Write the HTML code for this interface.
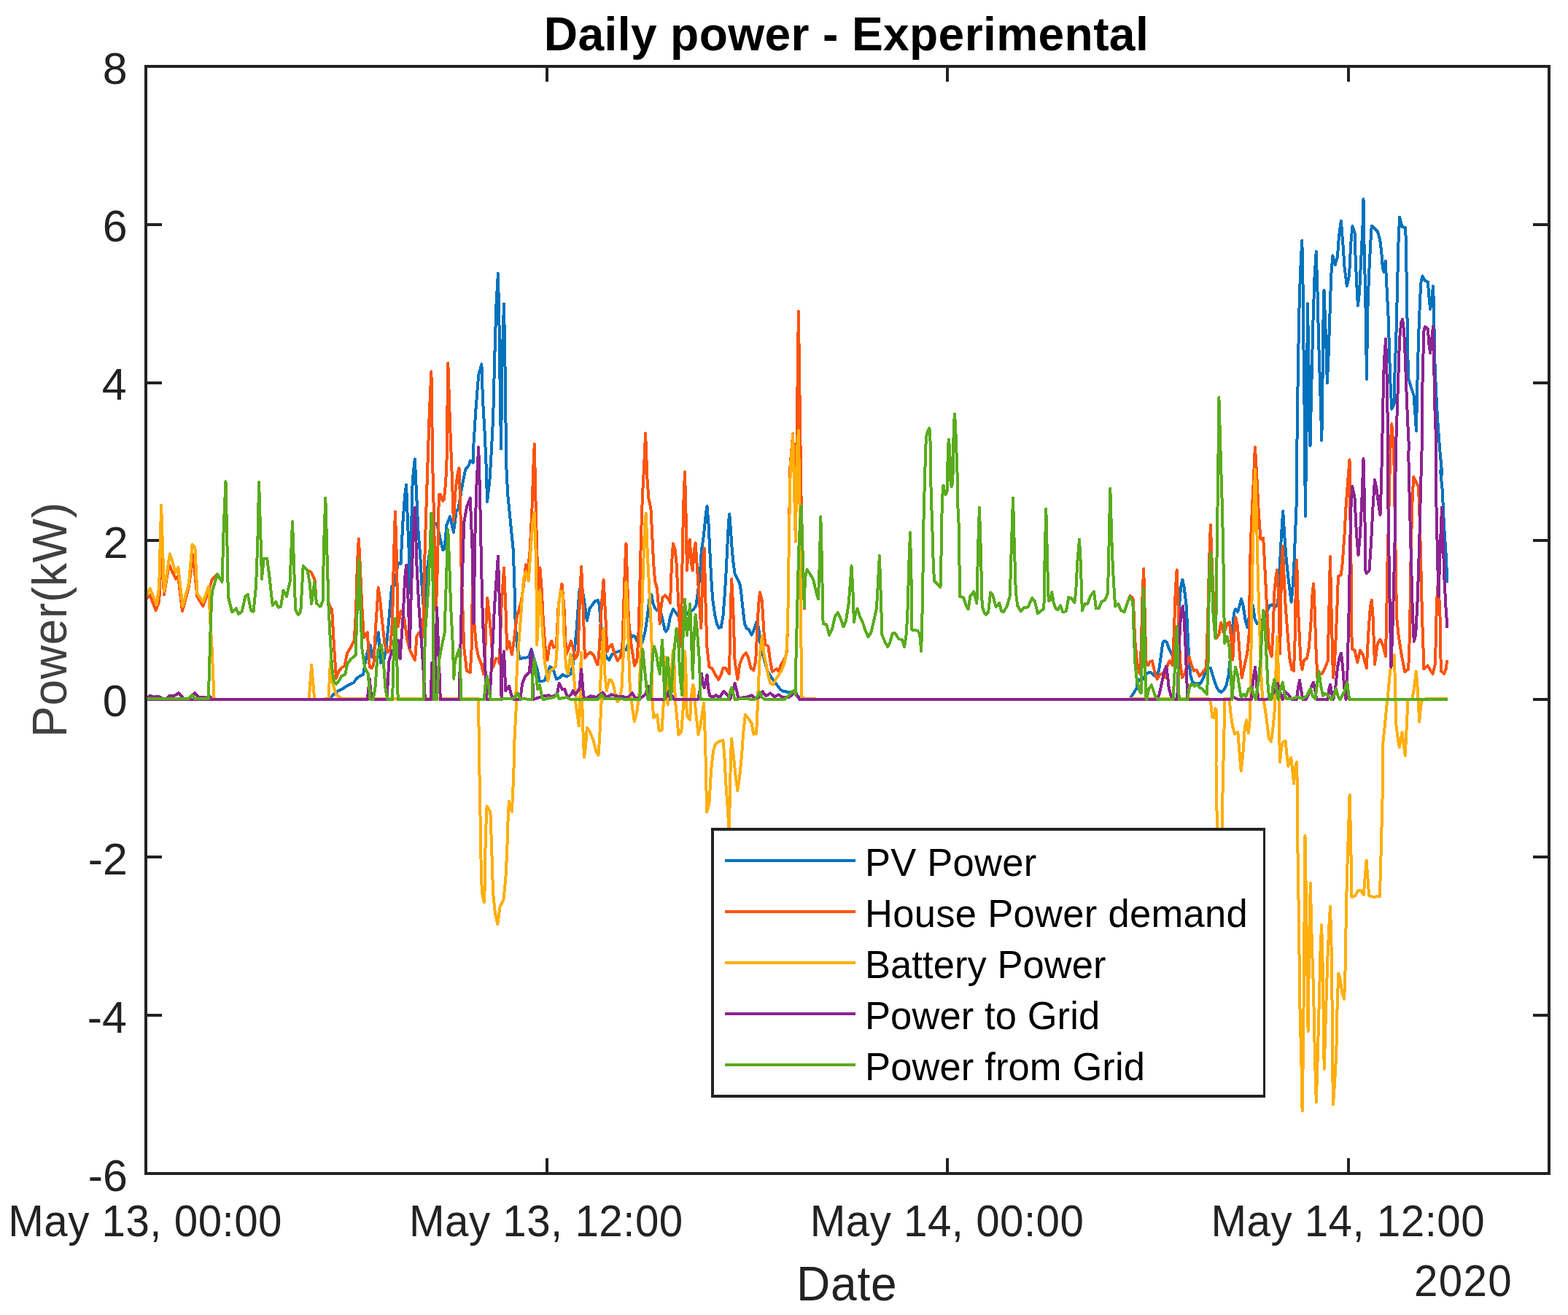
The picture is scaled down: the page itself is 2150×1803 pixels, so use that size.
<!DOCTYPE html>
<html lang="en"><head><meta charset="utf-8"><title>Daily power - Experimental</title>
<style>html,body{margin:0;padding:0;background:#fff;}body{width:2150px;height:1803px;overflow:hidden;}svg{display:block;}text{font-family:"Liberation Sans",sans-serif;}</style>
</head><body>
<svg width="2150" height="1803" viewBox="0 0 2150 1803">
<rect x="0" y="0" width="2150" height="1803" fill="#ffffff"/>
<defs><clipPath id="pc"><rect x="201.8" y="91" width="1922.2" height="1518"/></clipPath></defs>
<g fill="#222222" shape-rendering="crispEdges">
<rect x="198" y="89" width="1928" height="4"/>
<rect x="198" y="1607" width="1928" height="4"/>
<rect x="198" y="89" width="4" height="1522"/>
<rect x="2122" y="89" width="4" height="1522"/>
<rect x="748" y="1588" width="4" height="19"/>
<rect x="748" y="93" width="4" height="19"/>
<rect x="1297" y="1588" width="4" height="19"/>
<rect x="1297" y="93" width="4" height="19"/>
<rect x="1847" y="1588" width="4" height="19"/>
<rect x="1847" y="93" width="4" height="19"/>
<rect x="202" y="306" width="20" height="4"/>
<rect x="2102" y="306" width="20" height="4"/>
<rect x="202" y="523" width="20" height="4"/>
<rect x="2102" y="523" width="20" height="4"/>
<rect x="202" y="739" width="20" height="4"/>
<rect x="2102" y="739" width="20" height="4"/>
<rect x="202" y="957" width="20" height="4"/>
<rect x="2102" y="957" width="20" height="4"/>
<rect x="202" y="1173" width="20" height="4"/>
<rect x="2102" y="1173" width="20" height="4"/>
<rect x="202" y="1390" width="20" height="4"/>
<rect x="2102" y="1390" width="20" height="4"/>
</g>
<g clip-path="url(#pc)" fill="none" stroke-width="4" stroke-linejoin="round" stroke-linecap="butt" shape-rendering="crispEdges">
<polyline stroke="#0072BD" points="200.0,959.0 452.0,959.0 452.4,958.0 457.1,952.4 462.9,947.6 470.5,943.8 478.1,939.0 484.8,936.2 489.5,929.5 494.3,926.7 498.1,924.8 501.0,906.7 504.8,889.5 507.6,884.5 510.5,901.3 513.3,887.6 519.0,867.3 521.9,908.9 526.7,902.9 529.5,889.5 533.3,849.5 537.1,803.8 541.0,802.9 545.7,771.4 549.5,773.3 552.4,716.2 555.2,678.1 557.1,664.5 559.0,716.2 561.0,761.9 561.9,813.6 563.8,735.2 565.7,659.0 568.8,629.4 571.4,683.8 573.3,725.7 576.2,761.9 579.0,811.4 581.3,838.4 583.8,811.4 586.7,773.3 595.2,718.1 599.0,718.1 603.8,739.0 607.2,754.3 609.5,752.4 612.4,720.0 617.1,708.3 621.9,729.8 625.7,701.0 628.6,697.1 633.3,668.6 638.1,643.8 642.9,638.1 644.8,631.6 648.6,634.5 649.5,607.6 652.4,561.9 656.2,514.3 660.4,499.3 661.9,546.7 664.8,596.2 666.7,640.0 668.0,687.9 671.4,659.0 673.3,628.6 676.2,571.4 678.1,495.2 680.4,419.0 682.9,374.9 684.4,438.1 685.7,533.3 687.0,615.5 688.6,495.2 691.0,416.5 692.4,495.2 694.3,640.0 696.2,678.1 700.0,716.2 703.8,754.3 705.7,811.4 706.7,857.1 709.5,887.6 712.4,902.9 720.0,901.9 724.8,901.0 728.6,890.2 731.4,901.0 736.2,916.2 740.0,934.3 746.7,933.3 750.5,921.9 754.3,914.3 758.1,916.2 762.9,931.4 766.7,929.5 771.4,924.8 777.1,927.6 782.9,923.8 785.7,910.5 790.5,864.8 794.3,811.4 797.1,799.7 801.0,822.9 804.8,850.8 808.6,834.3 816.2,823.8 820.0,823.8 820.0,822.9 821.9,830.5 823.8,857.1 826.7,887.6 831.4,901.0 835.2,904.8 839.0,897.1 844.8,894.3 850.5,892.4 858.1,891.4 863.8,878.1 866.7,871.4 870.5,872.4 873.3,878.1 877.1,885.7 881.0,880.0 884.8,864.8 887.6,845.7 890.5,821.0 893.3,815.2 895.2,826.7 898.1,834.3 901.9,837.1 905.7,838.1 908.6,849.5 911.4,862.9 913.3,865.7 916.2,861.0 919.0,845.7 922.9,835.2 926.7,840.0 930.5,845.7 934.3,847.6 940.0,843.8 945.7,838.1 950.5,836.2 954.3,830.5 957.1,811.4 960.0,784.8 961.9,754.3 964.8,735.2 967.6,706.7 969.5,694.0 971.4,716.2 973.3,754.3 975.2,792.4 977.1,821.0 980.0,841.9 982.9,855.2 985.7,861.0 988.6,860.0 991.4,845.7 993.3,821.0 995.2,792.4 997.1,754.3 999.0,716.2 1000.2,704.5 1001.9,725.7 1003.8,754.3 1005.7,773.3 1007.6,786.7 1010.5,792.4 1014.3,800.0 1016.2,811.4 1018.1,830.5 1021.0,855.2 1023.8,861.9 1026.7,862.9 1030.5,870.5 1033.3,864.8 1037.1,853.3 1040.0,859.0 1041.9,878.1 1044.8,893.3 1048.6,906.7 1052.4,920.0 1058.1,929.5 1063.8,937.1 1069.5,944.8 1073.3,947.6 1079.0,948.6 1085.7,948.6 1090.5,952.4 1096.2,956.2 1105.7,958.0 1109.5,959.0 1548.6,959.0 1554.3,950.5 1559.0,942.9 1560.0,931.1 1563.8,933.0 1567.6,931.1 1572.4,923.4 1577.1,921.5 1581.9,925.4 1586.6,929.2 1589.5,915.8 1592.3,896.8 1594.2,881.6 1597.1,878.7 1599.9,880.6 1602.8,889.2 1606.6,896.8 1610.4,904.7 1614.2,887.3 1617.1,830.2 1619.0,805.5 1621.3,794.7 1623.7,805.5 1626.6,830.2 1628.5,868.3 1630.4,906.3 1632.3,925.4 1635.1,934.9 1638.0,937.7 1641.8,936.8 1645.6,937.7 1650.4,929.2 1653.2,919.6 1657.0,915.8 1659.9,915.8 1662.7,925.4 1665.6,934.9 1668.4,942.5 1671.3,947.2 1674.1,949.1 1677.9,946.3 1681.7,938.7 1684.6,925.4 1686.5,906.3 1688.4,887.3 1690.3,858.8 1692.2,839.7 1694.1,835.0 1697.0,838.8 1699.8,830.2 1702.1,821.4 1704.6,830.2 1707.4,849.3 1710.3,860.0 1712.2,849.3 1715.0,834.0 1717.9,830.2 1720.7,849.3 1723.6,855.0 1727.4,855.9 1731.2,849.3 1735.0,845.5 1737.9,837.8 1740.7,830.2 1744.5,829.3 1748.3,832.1 1751.2,830.2 1754.0,811.2 1755.0,773.2 1756.9,735.1 1759.2,700.6 1761.3,735.1 1763.5,763.7 1766.4,792.2 1769.3,815.0 1770.6,825.8 1772.1,811.2 1774.0,782.7 1775.9,735.1 1777.8,687.6 1778.4,615.2 1778.8,572.1 1779.9,507.3 1781.0,442.6 1782.1,399.5 1783.8,356.3 1785.3,329.9 1786.4,377.9 1787.0,442.6 1787.9,507.3 1789.0,593.7 1789.8,707.8 1791.8,572.1 1792.9,416.2 1793.9,464.2 1795.0,528.9 1796.5,611.5 1798.3,528.9 1800.4,442.6 1802.6,377.9 1804.7,345.0 1806.5,399.5 1808.0,464.2 1810.1,528.9 1812.3,603.9 1813.4,528.9 1814.4,442.6 1815.5,397.8 1817.2,442.6 1818.8,485.8 1819.8,525.2 1821.6,485.8 1823.1,442.6 1825.2,377.9 1827.4,350.4 1830.6,363.3 1833.9,352.0 1836.0,323.9 1838.8,302.9 1841.4,334.7 1843.6,367.1 1846.8,392.5 1850.0,377.9 1852.2,334.7 1854.4,310.0 1857.6,319.6 1858.7,356.3 1860.8,399.5 1861.9,419.4 1864.1,399.5 1866.2,356.3 1868.4,313.2 1869.5,272.7 1870.5,334.7 1872.1,399.5 1873.3,464.2 1873.8,519.8 1875.5,421.0 1877.0,377.9 1879.2,334.7 1880.7,309.5 1884.6,313.2 1888.9,317.5 1892.1,328.3 1894.3,345.5 1895.8,367.1 1897.5,373.0 1899.7,357.9 1900.7,377.9 1901.8,399.5 1904.0,442.6 1905.1,485.8 1906.6,528.9 1908.3,560.8 1911.5,554.8 1912.6,507.3 1914.3,464.2 1915.9,399.5 1917.4,334.7 1919.1,297.5 1922.3,311.0 1927.3,312.1 1928.2,356.3 1929.0,399.5 1929.9,464.2 1931.0,518.1 1934.2,528.9 1938.5,541.9 1940.7,572.1 1942.0,591.0 1943.3,528.9 1945.0,464.2 1946.7,421.0 1948.2,388.7 1950.4,378.5 1953.6,384.4 1957.9,386.5 1959.7,410.2 1961.2,423.8 1963.3,408.1 1965.0,392.4 1966.1,421.0 1967.0,485.8 1968.7,528.9 1970.9,572.1 1974.1,615.2 1977.3,650.0 1975.0,645.0 1977.5,670.0 1978.8,695.0 1980.0,720.0 1982.5,757.5 1984.5,798.8"/>
<polyline stroke="#FC530F" points="200.0,821.4 205.7,816.2 213.6,836.9 218.2,824.8 221.1,758.3 225.0,815.3 231.8,774.2 240.9,793.7 244.3,790.1 250.0,838.0 259.0,804.4 264.7,760.6 270.4,818.0 278.4,831.2 286.3,808.9 290.8,794.9 298.1,787.4 304.5,797.8 306.7,723.8 309.5,660.2 311.7,756.7 312.9,818.0 318.1,839.1 323.8,834.4 327.2,841.9 331.7,838.5 336.3,818.0 339.7,815.3 344.2,837.3 347.6,838.5 351.0,804.4 353.3,745.3 355.1,661.1 357.4,736.3 359.0,793.7 361.7,765.8 366.2,765.8 369.2,788.5 373.7,830.0 378.3,825.3 381.7,832.8 385.1,831.6 388.5,809.4 393.0,817.6 397.6,797.6 401.0,715.2 403.3,781.7 405.1,836.2 408.9,843.0 412.3,838.5 415.7,776.0 421.4,781.7 427.1,785.1 431.6,795.3 433.9,827.1 438.5,831.6 440.0,830.5 442.9,822.9 443.8,754.3 446.3,682.6 448.6,763.8 450.5,826.7 453.0,832.4 455.2,836.2 458.1,887.6 461.0,929.8 464.8,920.0 468.6,915.2 472.4,913.3 476.2,895.2 481.0,887.6 485.7,878.1 488.0,840.0 489.9,773.3 491.8,738.7 493.7,773.3 496.2,830.5 499.0,874.6 503.8,867.3 506.7,914.3 509.5,916.2 512.4,910.5 515.2,859.0 517.1,830.5 518.7,805.4 521.0,821.0 523.8,849.5 527.6,883.8 531.4,894.3 535.2,889.5 538.1,849.5 540.0,761.9 541.9,701.6 543.8,761.9 545.7,859.4 549.5,837.8 554.3,847.6 558.1,876.2 561.9,891.4 565.7,899.0 569.1,905.1 571.4,872.4 575.2,866.7 580.0,872.7 581.9,781.0 583.8,716.2 585.7,659.0 588.6,571.4 591.4,509.4 593.3,640.0 595.2,716.2 596.7,807.0 597.7,836.5 599.0,807.0 600.5,749.5 601.4,697.1 602.3,678.1 603.8,678.1 606.7,686.7 608.6,685.7 609.5,678.1 610.5,668.6 611.4,656.2 612.4,640.0 614.3,497.6 617.1,582.9 620.0,659.0 621.9,714.6 624.8,668.6 627.6,649.5 629.5,641.6 631.4,697.1 632.4,773.3 634.3,830.5 636.2,887.6 640.0,920.0 644.8,921.9 646.7,887.6 648.6,750.2 650.5,857.1 653.3,887.6 656.2,901.0 660.0,910.5 662.9,924.1 664.8,906.7 666.7,849.5 668.2,819.7 670.5,840.0 673.3,868.6 676.2,914.6 680.0,902.9 682.9,902.9 684.8,909.8 687.6,830.5 691.0,778.4 693.3,830.5 695.2,889.8 698.1,879.7 701.9,897.4 704.8,878.1 708.6,845.7 714.3,826.7 718.1,801.9 721.0,774.0 723.8,783.2 726.7,754.3 729.5,697.1 731.4,640.0 732.8,608.5 734.3,678.1 736.2,754.3 738.1,809.8 740.4,778.4 742.9,811.4 744.8,849.5 747.6,887.6 750.5,905.1 753.3,885.7 756.2,878.7 759.0,887.6 762.9,885.7 765.7,830.5 770.5,800.6 773.3,830.5 776.2,897.1 779.0,891.4 782.9,878.7 785.7,887.6 788.6,902.9 792.4,897.1 794.7,830.5 797.1,776.8 799.6,830.5 801.9,902.2 805.7,897.1 809.5,894.3 814.3,899.0 819.0,911.4 820.0,910.5 821.9,887.6 824.8,830.5 827.6,794.9 830.5,849.5 832.4,893.3 835.2,887.6 839.0,883.8 842.9,897.1 846.7,905.7 850.5,901.0 853.3,887.6 855.2,830.5 857.1,773.3 858.5,745.4 860.0,792.4 861.9,849.5 864.8,878.1 867.6,897.1 869.9,912.7 873.3,906.7 875.2,878.1 877.1,811.4 879.0,735.2 881.0,678.1 882.9,643.8 885.1,594.2 887.6,659.0 889.5,683.8 892.4,697.1 894.3,735.2 896.2,773.3 898.1,796.2 901.0,807.6 902.9,830.5 904.8,855.5 906.7,830.5 908.6,819.0 912.4,816.2 916.2,821.0 919.0,826.7 921.0,773.3 922.9,745.4 925.7,754.3 927.6,773.3 929.5,811.4 931.4,849.5 933.3,886.0 934.3,840.0 936.2,735.2 937.7,678.1 939.0,647.3 940.4,697.1 941.9,782.2 943.8,754.3 945.7,739.7 948.0,773.3 949.9,782.2 951.8,754.3 953.7,744.5 955.6,773.3 958.1,811.4 961.3,861.3 963.8,773.3 965.7,751.7 967.6,830.5 969.5,887.6 972.4,914.3 976.2,916.2 980.0,923.8 985.3,931.7 988.6,925.7 991.4,916.2 995.2,916.2 1000.0,924.1 1001.9,830.5 1003.2,794.0 1005.1,830.5 1007.6,906.7 1011.4,931.7 1014.3,910.5 1019.0,899.0 1022.9,895.2 1025.7,901.0 1029.5,916.2 1033.3,919.0 1036.2,906.7 1038.1,868.6 1040.0,830.5 1041.9,812.1 1044.8,822.9 1047.6,868.6 1049.5,883.8 1053.3,885.7 1056.2,906.7 1059.0,921.0 1064.8,917.1 1067.6,920.0 1071.4,910.5 1076.2,902.9 1079.0,893.3 1080.6,830.5 1081.9,735.2 1083.4,640.0 1087.2,594.9 1090.9,742.2 1092.8,582.9 1094.9,426.9 1097.1,582.9 1098.7,692.4 1100.0,735.2 1101.5,792.4 1102.9,834.6 1103.8,792.4 1106.7,781.0 1110.5,786.7 1115.2,794.3 1118.1,807.6 1121.9,821.3 1123.8,773.3 1125.3,708.3 1127.0,773.3 1128.6,855.2 1133.3,856.2 1137.1,870.8 1141.0,862.9 1144.8,845.7 1148.6,840.0 1152.4,847.6 1156.6,859.4 1160.0,851.4 1163.8,826.7 1165.7,801.9 1167.6,775.9 1169.5,811.4 1170.9,852.7 1173.3,840.0 1175.6,834.3 1179.0,845.7 1182.9,853.3 1186.7,864.8 1190.5,873.3 1194.3,867.6 1198.1,851.4 1201.9,834.3 1203.8,801.9 1205.9,762.0 1207.6,811.4 1209.5,870.5 1213.3,880.0 1217.1,886.7 1220.0,881.9 1221.0,878.1 1223.8,868.6 1226.7,867.6 1229.5,871.4 1232.4,876.2 1237.1,877.1 1240.0,887.0 1242.9,868.6 1244.8,830.5 1246.3,773.3 1248.0,730.2 1249.5,792.4 1250.5,863.8 1254.3,863.8 1258.1,864.8 1261.0,868.6 1263.2,892.7 1264.8,830.5 1265.7,773.3 1266.7,698.7 1266.7,705.4 1267.8,663.8 1268.8,630.5 1269.8,600.0 1271.9,591.4 1274.3,587.1 1275.4,593.3 1275.7,625.7 1276.4,663.8 1277.3,697.1 1278.1,707.0 1279.0,754.3 1281.0,797.1 1284.8,800.0 1289.5,805.1 1290.7,754.3 1291.4,707.0 1292.9,666.7 1293.8,665.7 1295.2,677.1 1297.1,678.1 1298.6,673.3 1299.0,654.3 1299.5,633.3 1300.0,612.4 1301.0,602.6 1301.9,612.4 1302.9,635.2 1303.3,659.0 1304.8,667.1 1305.7,663.8 1306.5,652.4 1306.9,625.7 1307.4,604.8 1308.1,580.0 1309.0,567.8 1310.0,581.9 1311.0,606.7 1311.9,631.4 1312.9,659.0 1313.5,697.1 1314.3,707.0 1314.9,735.2 1316.2,818.1 1321.0,819.0 1324.8,830.5 1327.6,835.2 1330.5,817.1 1335.2,811.4 1339.4,827.0 1341.0,754.3 1342.9,695.9 1344.8,754.3 1346.7,830.5 1349.5,840.0 1352.0,842.9 1355.2,839.0 1358.1,812.4 1361.0,815.2 1365.7,832.4 1370.1,826.7 1373.3,838.1 1376.2,839.0 1381.0,830.5 1384.8,817.1 1386.7,754.3 1389.0,682.6 1391.0,754.3 1392.8,811.4 1395.2,830.5 1399.6,838.1 1403.8,833.3 1409.5,832.4 1415.2,820.0 1419.0,824.8 1422.9,841.0 1425.7,839.0 1431.4,834.3 1432.4,773.3 1434.3,697.8 1436.2,773.3 1437.7,823.8 1440.0,822.9 1442.3,811.7 1444.8,826.7 1447.6,834.3 1450.5,836.2 1454.3,830.2 1457.1,839.0 1461.9,838.1 1465.3,819.0 1468.6,820.0 1473.3,826.0 1475.2,811.4 1477.1,773.3 1480.0,739.7 1481.9,773.3 1483.8,837.4 1487.6,827.6 1491.4,827.6 1495.2,817.1 1500.0,811.1 1502.9,834.3 1506.7,834.3 1510.5,824.8 1515.2,822.9 1519.0,813.3 1520.4,754.3 1522.3,669.8 1524.8,754.3 1526.7,792.4 1529.1,831.4 1533.3,827.6 1537.1,837.1 1541.9,839.0 1545.7,826.7 1549.5,817.1 1552.4,819.0 1553.9,822.9 1556.2,878.1 1559.0,906.7 1560.0,913.9 1562.9,923.8 1564.8,887.3 1566.7,811.2 1568.2,779.5 1569.9,849.3 1571.4,906.3 1574.3,912.0 1577.1,907.3 1580.0,906.3 1582.8,919.6 1586.6,931.1 1590.4,925.4 1593.3,923.4 1597.1,929.5 1600.9,912.0 1603.8,906.3 1607.6,912.0 1609.8,868.3 1611.7,811.2 1613.6,781.4 1615.5,830.2 1618.0,906.3 1620.9,929.2 1624.7,923.4 1627.5,912.0 1630.4,900.3 1633.2,910.1 1637.0,919.6 1640.8,918.7 1644.7,927.3 1649.4,921.5 1654.2,914.9 1656.1,849.3 1658.0,773.2 1659.9,719.6 1661.8,773.2 1663.7,815.0 1665.6,858.8 1667.5,875.2 1671.3,870.2 1674.1,853.7 1677.0,866.4 1679.8,864.5 1682.7,855.0 1685.9,853.1 1688.4,877.8 1690.3,904.7 1692.2,868.3 1694.5,847.1 1697.0,858.8 1699.8,896.8 1702.7,929.5 1706.5,912.0 1710.3,894.9 1712.8,868.3 1714.1,773.2 1716.0,716.1 1718.8,659.0 1720.9,613.1 1723.6,659.0 1725.5,697.1 1728.4,738.9 1732.2,738.0 1734.1,773.2 1736.0,811.2 1737.9,849.3 1739.8,887.3 1743.6,900.0 1745.5,868.3 1747.4,811.2 1749.3,792.2 1751.2,781.4 1752.9,811.2 1754.0,849.3 1755.2,896.5 1756.1,830.2 1757.5,773.2 1758.8,749.1 1760.7,792.2 1762.6,830.2 1765.5,868.3 1768.3,902.5 1771.2,917.7 1774.0,919.6 1775.9,868.3 1776.9,792.2 1778.2,768.1 1779.7,830.2 1781.6,868.3 1783.5,906.3 1785.4,918.0 1788.3,904.4 1792.1,902.5 1794.9,887.3 1797.8,849.3 1799.7,811.2 1801.2,800.4 1802.5,830.2 1804.4,887.3 1806.4,929.2 1809.2,925.4 1813.0,923.4 1816.8,915.8 1820.6,906.3 1822.5,830.2 1823.9,763.3 1825.4,830.2 1827.3,906.3 1828.2,929.5 1830.1,906.3 1832.0,868.3 1833.9,820.7 1834.9,790.3 1838.7,788.4 1840.6,773.2 1843.4,735.1 1845.4,697.1 1848.2,659.0 1850.5,630.4 1851.2,695.0 1852.5,770.0 1853.0,845.0 1853.8,890.0 1857.5,891.2 1861.2,908.4 1865.0,891.6 1868.8,897.5 1873.8,915.9 1876.2,870.0 1878.8,832.5 1880.8,822.9 1882.5,845.0 1885.0,910.9 1888.8,882.5 1892.5,876.6 1896.2,885.0 1900.0,899.6 1901.2,845.0 1902.5,770.0 1904.5,695.0 1906.2,620.0 1908.3,581.2 1911.2,620.0 1912.5,695.0 1913.8,770.0 1915.0,845.0 1917.5,870.0 1921.2,895.0 1926.2,921.2 1931.2,917.5 1933.0,870.0 1934.5,770.0 1936.2,695.0 1938.2,653.6 1941.2,660.0 1945.0,667.5 1947.0,720.0 1948.8,795.0 1950.0,845.0 1952.5,917.5 1957.5,912.5 1961.2,918.8 1964.5,923.8 1968.0,910.0 1969.5,845.0 1971.0,805.0 1972.5,800.0 1974.5,845.0 1975.8,920.0 1980.0,923.8 1982.5,917.5 1984.5,905.0"/>
<polyline stroke="#FFAE0D" points="200.0,818.0 205.7,807.1 214.8,828.9 218.2,804.4 221.1,692.4 225.0,810.7 232.9,759.4 240.9,784.6 244.3,777.6 250.4,831.2 259.0,799.9 263.6,746.5 267.4,751.0 270.4,813.5 278.4,825.5 286.3,803.7 288.1,849.8 290.4,883.9 293.6,958.0 295.4,959.0 423.7,959.0 427.1,911.6 431.2,959.0 438.5,959.0 450.5,958.0 453.0,906.4 456.2,937.1 461.0,952.4 468.6,958.0 655.2,958.0 655.2,959.0 656.2,961.0 656.8,1027.6 658.1,1092.4 659.0,1149.5 660.0,1206.7 661.3,1225.7 663.8,1237.4 664.8,1216.2 665.7,1149.5 667.6,1105.4 672.4,1113.3 674.3,1166.7 675.2,1197.1 676.2,1225.7 679.0,1252.4 682.3,1267.0 685.7,1242.9 690.5,1233.3 693.3,1204.8 695.2,1168.6 696.2,1134.3 697.1,1111.4 698.1,1098.7 701.9,1112.7 703.8,1073.3 704.8,1044.8 705.7,1006.7 707.0,985.7 708.2,961.0 707.2,959.0 707.6,944.8 709.5,906.7 712.4,868.6 715.2,830.5 718.1,792.4 721.0,783.5 724.8,796.5 727.6,754.3 730.5,716.2 732.8,702.6 735.2,773.3 736.2,884.1 740.4,811.1 742.9,849.5 746.7,906.7 751.4,933.6 754.3,920.0 761.9,914.3 763.8,887.6 766.1,830.5 768.6,810.5 771.4,811.4 773.3,868.6 776.2,916.2 779.0,924.1 782.3,896.8 784.8,906.7 787.6,935.2 790.1,959.0 788.6,959.0 791.4,978.1 793.9,995.5 795.2,968.6 796.8,894.9 798.1,959.0 799.6,1006.7 801.0,1038.4 802.9,1025.7 804.8,997.8 808.6,1002.9 813.3,1014.3 817.1,1029.5 820.4,1035.5 821.9,1016.2 823.8,978.1 824.8,959.0 822.9,944.8 824.8,906.7 827.6,861.6 829.5,925.7 831.8,947.0 835.2,932.4 838.1,932.4 841.0,939.0 843.8,952.4 846.7,961.9 849.5,959.0 852.4,944.8 855.2,887.6 857.1,830.5 858.5,797.8 860.0,830.5 861.9,887.6 863.8,944.8 865.7,959.0 867.6,974.3 869.9,989.4 873.3,976.2 875.2,961.0 876.2,959.0 878.1,906.7 881.0,811.4 883.8,725.7 885.7,703.5 887.6,754.3 889.5,792.4 891.4,830.5 893.3,868.6 894.3,925.7 894.3,959.0 896.2,983.8 901.0,980.0 903.8,1001.9 907.6,1001.0 909.5,968.6 910.5,959.0 911.0,925.7 912.4,900.6 913.7,925.7 914.7,959.0 915.6,966.0 916.6,959.0 921.0,916.2 922.9,891.1 924.8,916.2 925.7,959.0 927.6,978.1 930.5,1007.6 934.3,1002.9 936.2,978.1 937.5,959.0 937.7,916.2 939.0,893.0 940.4,916.2 941.0,959.0 941.9,981.9 946.1,986.7 947.6,959.0 949.1,944.8 950.5,938.7 951.8,944.8 952.4,959.0 954.3,978.1 957.5,1007.0 960.0,997.1 962.9,978.1 965.1,964.1 966.7,1006.7 968.0,1054.3 969.0,1113.6 972.4,1101.9 975.2,1054.3 978.1,1029.5 981.0,1020.0 986.7,1016.2 991.4,1015.2 993.3,1035.2 995.2,1073.3 998.1,1111.4 999.4,1140.3 1001.0,1092.4 1001.9,1035.2 1003.2,1013.0 1005.7,1035.2 1008.6,1063.8 1011.4,1084.1 1014.3,1063.8 1017.1,1035.2 1019.0,1006.7 1021.9,980.0 1026.7,985.7 1030.5,991.4 1033.3,1006.7 1037.1,1005.7 1038.5,975.0 1039.0,959.0 1041.9,897.1 1044.8,872.1 1047.6,897.1 1050.5,910.5 1053.3,925.7 1056.2,937.1 1060.0,939.0 1063.8,931.4 1067.6,925.7 1071.4,920.0 1076.2,906.7 1079.0,887.6 1080.6,830.5 1081.9,735.2 1083.8,640.0 1087.2,596.1 1090.9,741.3 1092.8,621.0 1094.9,590.4 1096.6,697.1 1098.1,830.5 1099.0,956.2 1101.9,958.0 1117.1,958.0 1119.0,959.0 1119.0,959.0 1548.0,959.0 1549.0,958.0 1658.0,958.0 1658.9,959.0 1660.8,968.5 1662.2,982.8 1664.6,983.8 1666.5,971.4 1668.1,975.2 1667.5,1048.4 1668.8,1130.2 1669.8,1187.3 1675.3,1187.3 1676.4,1092.2 1677.6,1038.9 1678.9,983.8 1679.5,959.0 1679.8,958.0 1685.6,958.0 1687.5,978.0 1690.3,997.1 1693.2,1006.6 1697.3,1003.7 1699.8,1035.1 1701.7,1057.3 1704.2,1035.1 1706.9,997.1 1709.3,987.3 1711.8,1005.0 1713.7,987.6 1714.5,959.0 1715.0,925.4 1716.4,830.2 1717.9,754.1 1719.8,678.0 1721.1,643.5 1722.6,697.1 1724.0,754.1 1725.5,811.2 1727.4,868.3 1729.3,925.4 1731.2,959.0 1732.2,959.0 1734.1,968.5 1736.9,987.6 1739.8,1012.3 1743.0,1017.0 1745.5,997.1 1747.4,978.0 1748.3,959.0 1749.3,925.4 1751.2,872.7 1753.1,925.4 1753.7,959.0 1754.0,997.1 1755.0,1044.9 1756.9,1025.6 1758.8,1018.0 1762.6,1016.1 1764.5,1035.1 1766.4,1050.6 1768.3,1042.7 1770.2,1038.9 1772.1,1054.1 1774.0,1074.4 1775.9,1054.1 1777.8,1045.3 1778.8,1073.2 1779.1,1130.2 1779.7,1187.3 1780.7,1244.4 1781.8,1331.7 1782.7,1396.6 1784.2,1443.9 1785.6,1523.5 1787.1,1429.1 1788.0,1325.7 1789.5,1145.8 1791.5,1266.7 1793.6,1414.2 1795.1,1296.2 1796.8,1210.7 1798.9,1296.2 1801.0,1355.3 1802.8,1443.9 1804.8,1511.1 1806.9,1443.9 1809.3,1355.3 1810.7,1296.2 1812.2,1268.3 1813.7,1325.7 1815.7,1465.9 1818.1,1384.8 1820.5,1311.0 1822.5,1266.7 1824.0,1243.2 1825.5,1296.2 1826.4,1355.3 1827.0,1443.9 1827.9,1514.6 1829.9,1488.1 1832.3,1443.9 1833.5,1384.8 1835.2,1334.6 1837.3,1340.5 1840.3,1361.2 1843.2,1369.9 1844.7,1325.7 1845.6,1266.7 1846.8,1207.6 1848.2,1163.3 1850.6,1089.7 1852.1,1148.6 1853.5,1229.8 1858.0,1228.3 1862.4,1220.9 1865.4,1220.9 1869.8,1226.7 1871.8,1201.7 1873.6,1179.7 1875.7,1207.6 1877.2,1228.3 1883.1,1229.8 1891.9,1228.9 1893.4,1178.1 1894.9,1119.1 1896.4,1060.0 1896.2,1020.0 1898.8,995.0 1901.2,970.0 1903.8,945.0 1906.2,920.0 1908.8,907.5 1912.0,897.9 1913.0,945.0 1914.5,995.0 1917.0,1015.0 1918.8,1024.7 1922.5,1004.1 1926.8,1035.9 1928.8,995.0 1930.5,959.0 1936.2,959.0 1938.8,945.0 1941.8,920.4 1943.8,945.0 1946.2,989.6 1948.0,970.0 1950.0,959.0 1957.5,958.0 1984.5,958.0"/>
<polyline stroke="#8C2391" points="202.0,959.0 200.0,959.0 200.0,958.0 202.0,958.0 205.5,953.7 211.0,955.6 218.0,955.1 224.6,959.0 228.0,958.0 233.0,953.5 238.0,954.6 245.0,950.3 253.0,959.0 258.0,958.0 267.0,950.3 272.0,955.6 280.0,955.6 283.5,958.0 286.5,953.2 290.5,959.0 290.5,959.0 200.0,959.0 290.5,959.0 290.5,959.0 440.0,959.0 440.0,959.0 503.8,959.0 506.7,931.1 509.5,959.0 530.5,959.0 533.3,906.7 537.1,893.3 541.9,887.6 545.7,877.8 548.6,903.2 552.4,849.5 555.2,792.4 557.1,774.9 560.0,830.5 561.9,887.9 563.8,811.4 566.7,735.2 569.1,695.9 571.4,773.3 574.3,830.5 577.1,868.6 581.0,925.7 582.9,959.0 590.5,959.0 592.4,908.3 594.3,959.0 596.2,959.0 599.0,833.0 601.9,906.7 603.8,959.0 629.5,959.0 631.4,887.6 633.3,811.4 636.2,716.2 640.0,695.2 644.8,682.6 647.6,754.3 649.5,855.5 651.4,735.2 653.3,668.6 656.2,613.2 658.1,678.1 660.0,773.3 661.9,849.5 664.8,906.7 667.6,959.0 671.4,959.0 674.3,906.7 678.1,830.5 682.9,762.6 685.7,849.5 687.6,959.0 688.6,925.7 691.0,893.0 693.3,947.0 698.1,940.6 701.0,952.4 703.8,959.0 713.3,959.0 716.2,937.1 720.0,927.6 725.7,921.9 728.6,891.1 731.4,959.0 744.8,954.3 752.4,953.3 756.2,955.2 763.8,952.4 766.7,936.8 770.5,944.8 774.3,944.8 778.1,956.2 782.9,952.4 785.7,946.7 788.6,952.7 794.3,944.8 797.1,917.8 800.0,952.4 801.9,959.0 809.5,954.3 819.0,956.2 820.0,954.3 826.7,949.5 831.4,956.2 838.1,952.4 844.8,954.3 854.3,955.2 861.0,956.2 866.7,950.2 870.5,956.2 877.1,958.0 884.8,952.4 888.6,940.6 891.4,959.0 911.4,959.0 917.1,948.3 919.0,959.0 921.9,954.0 923.8,959.0 957.1,959.0 960.0,944.8 961.9,923.5 963.8,937.1 965.7,943.2 969.5,925.4 971.4,944.8 973.3,954.3 978.1,955.2 981.9,953.3 986.7,956.2 992.4,947.6 997.1,952.4 1001.0,959.0 1005.7,944.8 1007.6,936.8 1010.5,948.6 1012.4,958.0 1020.0,956.2 1025.7,955.2 1030.5,953.3 1035.2,958.0 1041.0,956.2 1045.7,948.3 1050.5,954.3 1056.2,950.5 1061.9,955.2 1067.6,952.4 1073.3,956.2 1081.0,956.2 1086.7,952.4 1090.5,946.4 1093.3,954.3 1096.2,959.0 1220.0,959.0 1560.0,959.0 1560.0,959.0 1586.6,959.0 1589.5,952.0 1593.3,934.9 1596.1,921.5 1599.0,913.6 1600.9,925.4 1602.8,944.4 1605.7,953.9 1608.5,959.0 1614.2,959.0 1616.1,906.3 1618.0,858.8 1619.9,835.9 1621.8,831.2 1623.7,849.3 1625.6,887.3 1627.0,925.4 1628.5,959.0 1685.6,959.0 1691.3,955.8 1697.0,959.0 1716.0,959.0 1717.9,934.9 1721.1,914.6 1723.6,944.4 1725.5,959.0 1736.9,959.0 1743.6,953.9 1749.3,944.4 1752.1,937.4 1755.0,948.2 1758.8,959.0 1761.6,948.2 1766.4,952.0 1771.2,959.0 1777.8,959.0 1779.7,944.4 1782.0,932.7 1784.5,948.2 1786.4,959.0 1791.1,959.0 1794.0,952.0 1797.8,942.5 1801.0,935.5 1803.5,948.2 1805.4,959.0 1820.6,959.0 1822.5,944.4 1824.0,938.7 1826.3,952.0 1828.2,959.0 1831.1,944.4 1833.9,915.8 1836.8,900.6 1839.1,895.6 1841.2,915.8 1843.4,944.4 1845.4,959.0 1845.5,959.0 1847.5,920.0 1848.8,870.0 1850.0,820.0 1851.2,745.0 1852.5,695.0 1854.2,666.6 1857.5,682.5 1860.0,732.5 1862.5,760.9 1865.0,732.5 1867.5,682.5 1869.5,629.1 1871.2,695.0 1872.5,782.5 1873.8,786.2 1877.5,782.5 1880.0,745.0 1882.5,695.0 1885.0,657.9 1887.5,670.0 1890.0,690.0 1892.5,705.9 1893.8,670.0 1895.0,620.0 1896.4,550.5 1897.5,507.3 1898.6,485.8 1900.1,464.7 1901.4,507.3 1902.3,550.5 1902.9,593.7 1902.5,620.0 1903.8,720.0 1905.5,820.0 1907.5,914.6 1910.0,845.0 1912.5,745.0 1913.8,620.0 1916.9,528.9 1919.1,464.2 1921.2,442.6 1923.0,437.7 1925.1,453.4 1926.6,485.8 1928.2,528.9 1929.9,572.1 1932.0,615.2 1931.2,620.0 1933.0,695.0 1935.0,770.0 1937.0,845.0 1938.8,879.6 1941.2,870.0 1943.8,820.0 1946.2,745.0 1948.0,670.0 1949.5,620.0 1950.4,528.9 1951.5,485.8 1952.5,453.4 1954.0,448.0 1957.9,451.2 1959.7,475.0 1961.2,484.2 1963.3,464.2 1965.0,447.5 1966.1,485.8 1967.0,550.5 1968.7,593.7 1968.8,620.0 1969.5,695.0 1971.2,770.0 1972.5,818.4 1975.0,745.0 1977.0,695.4 1978.8,745.0 1980.5,795.0 1982.5,832.5 1984.5,861.2"/>
<polyline stroke="#59AB1C" points="200.0,958.0 259.0,958.0 263.6,952.5 267.0,958.0 285.8,958.0 289.0,849.8 290.8,811.2 298.1,787.4 304.5,797.8 306.7,723.8 309.5,660.2 311.7,756.7 312.9,818.0 318.1,839.1 323.8,834.4 327.2,841.9 331.7,838.5 336.3,818.0 339.7,815.3 344.2,837.3 347.6,838.5 351.0,804.4 353.3,745.3 355.1,661.1 357.4,736.3 359.0,793.7 361.7,765.8 366.2,765.8 369.2,788.5 373.7,830.0 378.3,825.3 381.7,832.8 385.1,831.6 388.5,809.4 393.0,817.6 397.6,797.6 401.0,715.2 403.3,781.7 405.1,836.2 408.9,843.0 412.3,838.5 415.7,776.0 421.4,781.7 424.8,799.9 427.1,827.8 431.2,798.0 433.9,827.1 438.5,831.6 440.0,830.5 442.9,822.9 443.8,754.3 446.3,682.6 448.6,763.8 450.5,830.5 452.4,868.6 455.2,916.2 458.1,935.2 461.0,938.1 464.8,933.3 468.6,926.7 473.3,924.8 476.2,910.5 481.0,903.8 487.6,898.1 489.9,830.5 492.4,767.3 494.3,830.5 496.2,887.6 500.0,914.3 504.8,923.8 507.6,959.0 511.4,959.0 514.3,944.8 518.1,891.4 522.9,884.5 525.7,906.7 528.6,944.8 531.4,959.0 538.1,959.0 540.0,887.6 541.9,848.3 543.8,887.6 545.7,959.0 581.0,959.0 582.9,868.6 585.7,830.5 587.6,801.9 589.5,754.3 591.4,703.5 593.3,773.3 594.3,887.6 595.2,959.0 599.0,959.0 601.9,906.7 605.7,885.7 609.5,868.6 611.4,811.4 613.3,754.3 614.3,726.4 616.2,773.3 618.1,830.5 621.0,887.6 622.3,930.8 623.8,906.7 627.6,895.2 630.1,889.5 631.4,925.7 632.4,959.0 663.8,959.0 665.7,937.1 668.2,927.3 670.5,944.8 672.4,959.0 702.9,958.0 706.7,955.2 709.9,950.5 713.3,958.0 729.5,959.0 730.5,925.7 732.8,903.5 735.2,925.7 737.1,944.8 740.0,939.0 742.9,954.3 744.8,959.0 760.0,956.2 763.8,951.1 766.7,958.0 777.1,956.2 782.9,959.0 820.0,959.0 820.0,959.0 824.8,952.4 828.6,958.0 877.1,959.0 879.0,925.7 881.3,890.2 883.8,916.2 886.7,944.8 888.6,959.0 891.4,959.0 893.3,925.7 895.2,897.1 897.1,886.4 900.0,897.1 902.9,916.2 904.8,924.1 906.7,897.1 908.0,877.8 909.5,906.7 911.4,959.0 913.3,925.7 915.6,901.6 918.1,935.2 920.0,959.0 921.9,925.7 924.8,887.6 927.6,861.6 930.5,887.6 932.4,925.7 935.2,952.7 936.6,868.6 939.0,821.6 941.9,870.8 944.2,849.5 946.1,828.3 948.0,878.1 949.9,929.8 951.8,868.6 953.7,842.6 956.2,868.6 959.0,906.7 960.6,959.0 999.0,959.0 1001.0,948.6 1003.4,942.6 1005.7,952.4 1007.6,959.0 1018.1,958.0 1035.2,959.0 1039.0,954.3 1041.9,948.6 1044.8,956.2 1048.6,959.0 1075.2,959.0 1081.0,954.3 1085.7,948.6 1088.6,946.7 1090.5,952.4 1091.4,906.7 1093.3,830.5 1095.2,754.3 1097.1,716.2 1098.7,694.0 1100.0,735.2 1101.5,792.4 1102.9,832.7 1103.8,792.4 1106.7,781.0 1110.5,786.7 1115.2,794.3 1118.1,807.6 1121.9,821.3 1123.8,773.3 1125.3,708.3 1127.0,773.3 1128.6,855.2 1133.3,856.2 1137.1,870.8 1141.0,862.9 1144.8,845.7 1148.6,840.0 1152.4,847.6 1156.6,859.4 1160.0,851.4 1163.8,826.7 1165.7,801.9 1167.6,775.9 1169.5,811.4 1170.9,852.7 1173.3,840.0 1175.6,834.3 1179.0,845.7 1182.9,853.3 1186.7,864.8 1190.5,873.3 1194.3,867.6 1198.1,851.4 1201.9,834.3 1203.8,801.9 1205.9,762.0 1207.6,811.4 1209.5,870.5 1213.3,880.0 1217.1,886.7 1220.0,881.9 1221.0,878.1 1223.8,868.6 1226.7,867.6 1229.5,871.4 1232.4,876.2 1237.1,877.1 1240.0,887.0 1242.9,868.6 1244.8,830.5 1246.3,773.3 1248.0,730.2 1249.5,792.4 1250.5,863.8 1254.3,863.8 1258.1,864.8 1261.0,868.6 1263.2,892.7 1264.8,830.5 1265.7,773.3 1266.7,698.7 1266.7,705.4 1267.8,663.8 1268.8,630.5 1269.8,600.0 1271.9,591.4 1274.3,587.1 1275.4,593.3 1275.7,625.7 1276.4,663.8 1277.3,697.1 1278.1,707.0 1279.0,754.3 1281.0,797.1 1284.8,800.0 1289.5,805.1 1290.7,754.3 1291.4,707.0 1292.9,666.7 1293.8,665.7 1295.2,677.1 1297.1,678.1 1298.6,673.3 1299.0,654.3 1299.5,633.3 1300.0,612.4 1301.0,602.6 1301.9,612.4 1302.9,635.2 1303.3,659.0 1304.8,667.1 1305.7,663.8 1306.5,652.4 1306.9,625.7 1307.4,604.8 1308.1,580.0 1309.0,567.8 1310.0,581.9 1311.0,606.7 1311.9,631.4 1312.9,659.0 1313.5,697.1 1314.3,707.0 1314.9,735.2 1316.2,818.1 1321.0,819.0 1324.8,830.5 1327.6,835.2 1330.5,817.1 1335.2,811.4 1339.4,827.0 1341.0,754.3 1342.9,695.9 1344.8,754.3 1346.7,830.5 1349.5,840.0 1352.0,842.9 1355.2,839.0 1358.1,812.4 1361.0,815.2 1365.7,832.4 1370.1,826.7 1373.3,838.1 1376.2,839.0 1381.0,830.5 1384.8,817.1 1386.7,754.3 1389.0,682.6 1391.0,754.3 1392.8,811.4 1395.2,830.5 1399.6,838.1 1403.8,833.3 1409.5,832.4 1415.2,820.0 1419.0,824.8 1422.9,841.0 1425.7,839.0 1431.4,834.3 1432.4,773.3 1434.3,697.8 1436.2,773.3 1437.7,823.8 1440.0,822.9 1442.3,811.7 1444.8,826.7 1447.6,834.3 1450.5,836.2 1454.3,830.2 1457.1,839.0 1461.9,838.1 1465.3,819.0 1468.6,820.0 1473.3,826.0 1475.2,811.4 1477.1,773.3 1480.0,739.7 1481.9,773.3 1483.8,837.4 1487.6,827.6 1491.4,827.6 1495.2,817.1 1500.0,811.1 1502.9,834.3 1506.7,834.3 1510.5,824.8 1515.2,822.9 1519.0,813.3 1520.4,754.3 1522.3,669.8 1524.8,754.3 1526.7,792.4 1529.1,831.4 1533.3,827.6 1537.1,837.1 1541.9,839.0 1545.7,826.7 1549.5,818.7 1553.3,824.8 1554.7,868.6 1556.2,906.7 1559.0,935.2 1560.0,936.8 1562.9,948.2 1564.8,950.1 1566.1,887.3 1567.2,830.2 1568.2,806.2 1569.5,868.3 1571.0,953.9 1572.4,959.0 1575.2,944.4 1579.0,939.3 1581.9,948.2 1584.7,955.8 1588.5,959.0 1608.5,959.0 1610.4,925.4 1612.3,887.3 1613.8,858.5 1615.2,906.3 1616.7,959.0 1628.5,959.0 1630.4,944.4 1633.2,937.7 1638.0,940.6 1640.8,937.7 1644.7,942.5 1648.5,944.4 1652.3,949.1 1655.1,952.0 1656.6,906.3 1657.4,830.2 1658.9,773.2 1660.3,757.6 1661.8,792.2 1663.7,845.5 1666.5,875.2 1667.9,830.2 1668.8,735.1 1670.0,667.0 1671.4,545.0 1673.6,621.0 1675.0,667.0 1676.0,697.1 1677.9,792.2 1678.9,881.9 1682.7,872.7 1685.6,887.3 1687.8,925.4 1689.4,959.0 1691.3,934.9 1694.1,914.6 1697.0,925.4 1699.8,944.4 1701.7,955.8 1705.5,952.0 1708.4,954.8 1712.2,944.4 1716.0,942.5 1718.8,952.0 1721.7,959.0 1725.5,934.9 1728.4,906.3 1730.3,868.3 1732.5,836.6 1735.0,868.3 1736.9,906.3 1738.8,944.4 1740.7,959.0 1743.6,959.0 1745.5,940.6 1747.4,931.7 1750.2,944.4 1752.5,959.0 1755.9,944.4 1758.8,935.5 1760.7,948.2 1763.5,958.0 1771.2,958.0 1778.8,955.8 1786.4,958.0 1792.1,953.9 1796.8,944.1 1799.7,953.9 1803.5,958.0 1806.4,934.9 1808.6,920.3 1811.1,940.6 1814.0,953.9 1816.8,951.0 1820.6,952.9 1825.4,959.0 1829.2,953.9 1832.0,944.1 1834.9,955.8 1837.7,959.0 1843.4,948.2 1847.3,935.5 1850.1,959.0 1985.0,959.0"/>
</g>
<text transform="translate(174.56,114.60) scale(1.045,1.045)" font-size="58.33px" fill="#222222" text-anchor="end">8</text>
<text transform="translate(174.56,331.46) scale(1.045,1.045)" font-size="58.33px" fill="#222222" text-anchor="end">6</text>
<text transform="translate(173.52,548.31) scale(1.045,1.045)" font-size="58.33px" fill="#222222" text-anchor="end">4</text>
<text transform="translate(175.61,765.17) scale(1.045,1.045)" font-size="58.33px" fill="#222222" text-anchor="end">2</text>
<text transform="translate(174.56,982.03) scale(1.045,1.045)" font-size="58.33px" fill="#222222" text-anchor="end">0</text>
<text transform="translate(175.00,1198.89) scale(1.045,1.045)" font-size="58.33px" fill="#222222" text-anchor="end">-2</text>
<text transform="translate(173.96,1415.74) scale(1.045,1.045)" font-size="58.33px" fill="#222222" text-anchor="end">-4</text>
<text transform="translate(175.00,1632.60) scale(1.045,1.045)" font-size="58.33px" fill="#222222" text-anchor="end">-6</text>
<text transform="translate(11.29,1695.00) scale(1,1.04)" font-size="58.33px" fill="#222222" textLength="375.26" lengthAdjust="spacing">May 13, 00:00</text>
<text transform="translate(561.00,1695.00) scale(1,1.04)" font-size="58.33px" fill="#222222" textLength="375.26" lengthAdjust="spacing">May 13, 12:00</text>
<text transform="translate(1110.71,1695.00) scale(1,1.04)" font-size="58.33px" fill="#222222" textLength="375.26" lengthAdjust="spacing">May 14, 00:00</text>
<text transform="translate(1660.43,1695.00) scale(1,1.04)" font-size="58.33px" fill="#222222" textLength="375.26" lengthAdjust="spacing">May 14, 12:00</text>
<text transform="translate(1938.90,1777.00) scale(1,1.045)" font-size="58.33px" fill="#222222" textLength="133.87" lengthAdjust="spacing">2020</text>
<text transform="translate(1092.00,1783.00) scale(1,1.03)" font-size="64.17px" fill="#222222" textLength="137.63" lengthAdjust="spacing">Date</text>
<text transform="translate(91.00,1010.90) rotate(-90) scale(1,1.05)" font-size="64.17px" fill="#404040" textLength="322.02" lengthAdjust="spacing">Power(kW)</text>
<text transform="translate(745.80,69.00) scale(1,1.02)" font-size="64.17px" fill="#000" font-weight="bold" textLength="828.93" lengthAdjust="spacing">Daily power - Experimental</text>
<g shape-rendering="crispEdges">
<rect x="975" y="1135" width="760" height="370" fill="#222222"/>
<rect x="979" y="1139" width="753" height="362" fill="#ffffff"/>
<rect x="994" y="1178" width="179" height="4" fill="#0072BD"/>
<rect x="994" y="1248" width="179" height="4" fill="#FC530F"/>
<rect x="994" y="1318" width="179" height="4" fill="#FFAE0D"/>
<rect x="994" y="1388" width="179" height="4" fill="#8C2391"/>
<rect x="994" y="1458" width="179" height="4" fill="#59AB1C"/>
</g>
<text transform="translate(1186.00,1200.80) scale(1,1.03)" font-size="52.5px" fill="#000" textLength="235.14" lengthAdjust="spacing">PV Power</text>
<text transform="translate(1186.00,1270.80) scale(1,1.03)" font-size="52.5px" fill="#000" textLength="524.67" lengthAdjust="spacing">House Power demand</text>
<text transform="translate(1186.00,1340.80) scale(1,1.03)" font-size="52.5px" fill="#000" textLength="330.52" lengthAdjust="spacing">Battery Power</text>
<text transform="translate(1186.00,1410.80) scale(1,1.03)" font-size="52.5px" fill="#000" textLength="322.15" lengthAdjust="spacing">Power to Grid</text>
<text transform="translate(1186.00,1480.80) scale(1,1.03)" font-size="52.5px" fill="#000" textLength="383.97" lengthAdjust="spacing">Power from Grid</text>
</svg>
</body></html>
